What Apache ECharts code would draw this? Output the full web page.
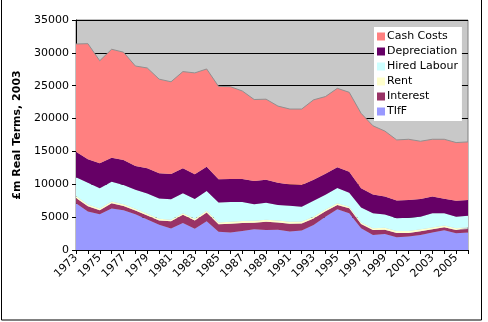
<!DOCTYPE html>
<html><head><meta charset="utf-8">
<script src="https://cdn.jsdelivr.net/npm/echarts@6/dist/echarts.min.js"></script>
<style>html,body{margin:0;padding:0;background:#fff}#c{width:488px;height:322px}</style>
</head><body><div id="c"></div>
<script>
const years = ['1973','1974','1975','1976','1977','1978','1979','1980','1981','1982','1983','1984','1985','1986','1987','1988','1989','1990','1991','1992','1993','1994','1995','1996','1997','1998','1999','2000','2001','2002','2003','2004','2005','2006'];
const yTicks = [0, 5000, 10000, 15000, 20000, 25000, 30000, 35000];
const tiff = [7100,5850,5450,6300,6050,5450,4650,3850,3270,4110,3250,4370,2770,2650,2900,3150,3050,3100,2800,2950,3800,5050,6200,5600,3300,2300,2450,1950,2050,2300,2650,3000,2550,2650];
const interest = [800,800,600,800,650,550,600,650,1100,1250,1250,1350,1150,1350,1200,1000,1250,1100,1200,1100,1000,850,650,750,650,750,650,650,550,550,500,450,500,550];
const rent = [300,280,260,280,270,260,250,240,230,240,250,260,280,300,300,300,290,290,280,280,270,260,250,250,250,260,270,280,290,290,280,270,260,250];
const hiredLabour = [2860,3320,3090,3020,2930,2890,3100,3110,3120,3030,3020,3000,3010,3000,2900,2500,2610,2360,2470,2270,2430,2240,2350,2100,2250,2290,2030,1970,2010,1910,2170,1880,1740,1750];
const depreciation = [3900,3550,3790,3650,3800,3630,3830,3820,3850,3800,3750,3700,3550,3500,3500,3550,3500,3400,3200,3300,3200,3200,3150,3200,2950,2850,2750,2700,2700,2700,2550,2200,2450,2400];
const cashCosts = [16390,17600,15610,16500,16400,15220,15270,14330,14030,14720,15430,14870,14140,14050,13400,12400,12250,11650,11500,11550,12150,11750,12000,12100,11400,10450,9950,9200,9250,8800,8700,9050,8850,8850];

const seriesDefs = [
  {name:'TIfF', data:tiff, color:'#9999ff'},
  {name:'Interest', data:interest, color:'#993366'},
  {name:'Rent', data:rent, color:'#ffffcc'},
  {name:'Hired Labour', data:hiredLabour, color:'#ccffff'},
  {name:'Depreciation', data:depreciation, color:'#660066'},
  {name:'Cash Costs', data:cashCosts, color:'#ff8080'}
];
const font = 'DejaVu Sans, Verdana, sans-serif';
const chart = echarts.init(document.getElementById('c'), null, {renderer:'canvas'});
chart.setOption({
  animation:false,
  backgroundColor:'#fff',
  grid:{left:76, right:20, top:20, bottom:72, show:true, backgroundColor:'#c8c8c8', borderColor:'#808080', borderWidth:1},
  legend:{
    orient:'vertical', left:374, top:27, width:90,
    data:['Cash Costs','Depreciation','Hired Labour','Rent','Interest','TIfF'],
    icon:'rect', itemWidth:8, itemHeight:8, itemGap:2,
    backgroundColor:'#fff', padding:[3,4,3,3],
    textStyle:{fontFamily:font, fontSize:11, color:'#000', padding:[0,0,0,-3], lineHeight:13}
  },
  xAxis:{
    type:'category', data:years, boundaryGap:false,
    axisLine:{lineStyle:{color:'#000', width:1}},
    axisTick:{show:true, interval:0, length:4, inside:false, lineStyle:{color:'#000'}},
    axisLabel:{interval:1, rotate:45, fontFamily:font, fontSize:11, color:'#000', margin:6},
    splitLine:{show:false}
  },
  yAxis:{
    type:'value', min:0, max:35000, interval:5000,
    name:'£m Real Terms, 2003', nameLocation:'middle', nameGap:47, nameRotate:90,
    nameTextStyle:{fontFamily:font, fontSize:11, fontWeight:'bold', color:'#000'},
    axisLine:{show:true, lineStyle:{color:'#000', width:1}},
    axisTick:{show:true, length:4, lineStyle:{color:'#000'}},
    axisLabel:{fontFamily:font, fontSize:11, color:'#000', margin:7,
      formatter:function(v){return yTicks.indexOf(v)>=0 ? String(v) : '';}},
    splitLine:{show:true, lineStyle:{color:'#000', width:1}}
  },
  series: seriesDefs.map(function(s){
    return {
      name:s.name, type:'line', stack:'total', data:s.data,
      symbol:'none', smooth:false,
      lineStyle:{width:s.name==='Cash Costs'?1:0, color:s.name==='Cash Costs'?'#909090':s.color},
      itemStyle:{color:s.color},
      areaStyle:{color:s.color, opacity:1}
    };
  }),
  graphic:[{type:'rect', shape:{x:1.5, y:-1, width:480, height:321}, style:{fill:null, stroke:'#000', lineWidth:1}, silent:true}]
});
</script></body></html>
